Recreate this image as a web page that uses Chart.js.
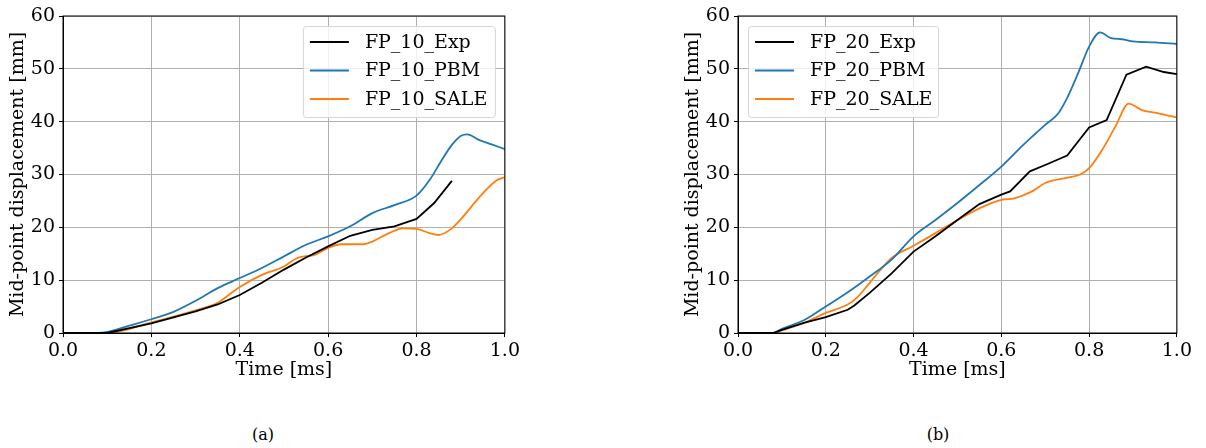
<!DOCTYPE html>
<html lang="en">
<head>
<meta charset="UTF-8">
<title>Mid-point displacement</title>
<style>
    body { margin: 0; background: #fff; width: 1206px; height: 448px; position: relative; overflow: hidden; }
    .plot { position: absolute; top: 0; width: 520px; height: 390px; }
    .caption { position: absolute; top: 425px; font-family: "DejaVu Serif", serif; font-size: 16px; color: #000; transform: translateX(-50%); }
</style>
</head>
<body>

<div class="plot" style="left:0;width:523px"><canvas id="chartA"></canvas></div>
<div class="plot" style="left:675px"><canvas id="chartB"></canvas></div>
<div class="caption" style="left:263px">(a)</div>
<div class="caption" style="left:938px">(b)</div>

<script src="https://cdn.jsdelivr.net/npm/chart.js"></script>
<script>
// (a) FP_10
const tExpA  = [0, 0.1, 0.2, 0.3, 0.35, 0.4, 0.45, 0.5, 0.55, 0.6, 0.65, 0.7, 0.75, 0.8, 0.84, 0.88];
const expA   = [0, 0, 1.8, 4.1, 5.4, 7.2, 9.5, 12.0, 14.3, 16.4, 18.4, 19.5, 20.2, 21.6, 24.6, 28.8];
const tPbmA  = [0, 0.08, 0.1, 0.15, 0.2, 0.25, 0.3, 0.35, 0.4, 0.45, 0.5, 0.55, 0.6, 0.65, 0.7, 0.75, 0.8, 0.83, 0.857, 0.88, 0.9, 0.915, 0.94, 0.97, 1.0];
const pbmA   = [0, 0, 0.2, 1.4, 2.6, 4.0, 6.1, 8.5, 10.4, 12.3, 14.5, 16.7, 18.3, 20.2, 22.7, 24.2, 26.0, 29.0, 32.7, 35.6, 37.3, 37.6, 36.6, 35.7, 34.8];
const tSaleA = [0, 0.1, 0.2, 0.3, 0.35, 0.375, 0.4, 0.45, 0.5, 0.53, 0.57, 0.6, 0.63, 0.68, 0.7, 0.74, 0.77, 0.8, 0.83, 0.85, 0.88, 0.9, 0.94, 0.98, 1.0];
const saleA  = [0, 0, 2.0, 4.3, 5.7, 7.2, 8.7, 11.0, 12.6, 14.2, 14.8, 16.1, 16.8, 16.8, 17.3, 19.0, 19.8, 19.7, 18.9, 18.55, 19.8, 21.5, 25.5, 28.8, 29.5];

// (b) FP_20
const tExpB  = [0, 0.08, 0.1, 0.15, 0.2, 0.25, 0.265, 0.3, 0.35, 0.4, 0.45, 0.5, 0.55, 0.6, 0.62, 0.665, 0.7, 0.75, 0.8, 0.84, 0.885, 0.93, 0.97, 1.0];
const expB   = [0, 0, 0.6, 1.9, 3.0, 4.4, 5.2, 7.6, 11.3, 15.4, 18.3, 21.4, 24.4, 26.2, 26.8, 30.6, 31.8, 33.6, 38.9, 40.3, 48.9, 50.4, 49.4, 49.0];
const tPbmB  = [0, 0.08, 0.1, 0.15, 0.2, 0.25, 0.3, 0.35, 0.4, 0.45, 0.5, 0.55, 0.6, 0.65, 0.7, 0.73, 0.75, 0.775, 0.8, 0.825, 0.85, 0.875, 0.9, 0.95, 1.0];
const pbmB   = [0, 0, 0.8, 2.4, 5.0, 7.7, 10.7, 13.9, 18.3, 21.4, 24.6, 28.0, 31.5, 35.6, 39.4, 41.6, 44.5, 49.2, 54.2, 56.9, 55.8, 55.6, 55.2, 55.0, 54.7];
const tSaleB = [0, 0.08, 0.1, 0.15, 0.2, 0.25, 0.27, 0.3, 0.35, 0.4, 0.45, 0.5, 0.55, 0.6, 0.63, 0.67, 0.7, 0.75, 0.78, 0.8, 0.83, 0.86, 0.89, 0.92, 0.95, 1.0];
const saleB  = [0, 0, 0.5, 1.9, 3.8, 5.4, 6.6, 9.5, 14.2, 16.5, 18.9, 21.4, 23.6, 25.2, 25.5, 26.8, 28.4, 29.4, 30.0, 31.2, 34.7, 39.1, 43.4, 42.2, 41.7, 40.8];

const FONT = 'DejaVu Serif';
const BLUE = '#1f77b4';
const ORANGE = '#ff7f0e';

function pts(ts, ys) {
    return ts.map((t, i) => ({x: t, y: ys[i]}));
}

// legend box inside the axes + full frame round the plot area
const frameLegend = {
    id: 'frameLegend',
    afterDatasetsDraw(chart, args, opts) {
        const ctx = chart.ctx;
        const a = chart.chartArea;
        ctx.save();
        ctx.strokeStyle = '#000';
        ctx.lineWidth = 1;
        ctx.strokeRect(a.left, a.top, a.right - a.left, a.bottom - a.top);

        const w = opts.width, h = 91;
        const x = opts.side === 'right' ? a.right - 10 - w : a.left + 10;
        const y = a.top + 10;
        ctx.beginPath();
        ctx.roundRect(x + 0.5, y + 0.5, w, h, 3);
        ctx.fillStyle = 'rgba(255,255,255,0.8)';
        ctx.fill();
        ctx.strokeStyle = '#d6d6d6';
        ctx.stroke();

        ctx.font = '19px "' + FONT + '"';
        ctx.textBaseline = 'middle';
        ctx.fillStyle = '#000';
        chart.data.datasets.forEach((ds, i) => {
            const cy = y + 16 + i * 28.5;
            ctx.beginPath();
            ctx.moveTo(x + 7, cy);
            ctx.lineTo(x + 46, cy);
            ctx.strokeStyle = ds.borderColor;
            ctx.lineWidth = 1.8;
            ctx.stroke();
            ctx.fillText(ds.label, x + 62, cy + 1);
        });
        ctx.restore();
    }
};

function makeChart(id, tag, series, side, legendWidth) {
    new Chart(document.getElementById(id), {
        type: 'line',
        data: {
            datasets: [{
                label: 'FP_' + tag + '_Exp',
                data: series[0],
                borderColor: '#000',
                borderWidth: 1.8,
                pointRadius: 0,
                tension: 0
            }, {
                label: 'FP_' + tag + '_PBM',
                data: series[1],
                borderColor: BLUE,
                borderWidth: 1.8,
                pointRadius: 0,
                cubicInterpolationMode: 'monotone'
            }, {
                label: 'FP_' + tag + '_SALE',
                data: series[2],
                borderColor: ORANGE,
                borderWidth: 1.8,
                pointRadius: 0,
                cubicInterpolationMode: 'monotone'
            }]
        },
        options: {
            responsive: true,
            maintainAspectRatio: false,
            animation: false,
            layout: { padding: { top: 16, right: 0, left: 0, bottom: 0 } },
            scales: {
                x: {
                    type: 'linear',
                    min: 0,
                    max: 1,
                    ticks: {
                        stepSize: 0.2,
                        color: '#000',
                        padding: 3,
                        maxRotation: 0,
                        font: { family: FONT, size: 19 },
                        callback: v => v.toFixed(1)
                    },
                    grid: { color: '#b0b0b0', lineWidth: 1, tickLength: 4, tickColor: '#000' },
                    border: { color: '#000' },
                    title: {
                        display: true,
                        text: 'Time [ms]',
                        color: '#000',
                        font: { family: FONT, size: 19 },
                        padding: { top: 0, bottom: 9 }
                    },
                    afterFit: s => { s.height = 57; }
                },
                y: {
                    min: 0,
                    max: 60,
                    ticks: {
                        stepSize: 10,
                        color: '#000',
                        padding: 4,
                        font: { family: FONT, size: 19 }
                    },
                    grid: { color: '#b0b0b0', lineWidth: 1, tickLength: 4, tickColor: '#000' },
                    border: { color: '#000' },
                    title: {
                        display: true,
                        text: 'Mid-point displacement [mm]',
                        color: '#000',
                        font: { family: FONT, size: 19 },
                        padding: { top: 7, bottom: 0 }
                    },
                    afterFit: s => { s.width = 63; }
                }
            },
            plugins: {
                legend: { display: false },
                tooltip: { enabled: false },
                frameLegend: { side: side, width: legendWidth }
            }
        },
        plugins: [frameLegend]
    });
}

makeChart('chartA', '10', [pts(tExpA, expA), pts(tPbmA, pbmA), pts(tSaleA, saleA)], 'right', 192);
makeChart('chartB', '20', [pts(tExpB, expB), pts(tPbmB, pbmB), pts(tSaleB, saleB)], 'left', 190);
</script>
</body>
</html>
